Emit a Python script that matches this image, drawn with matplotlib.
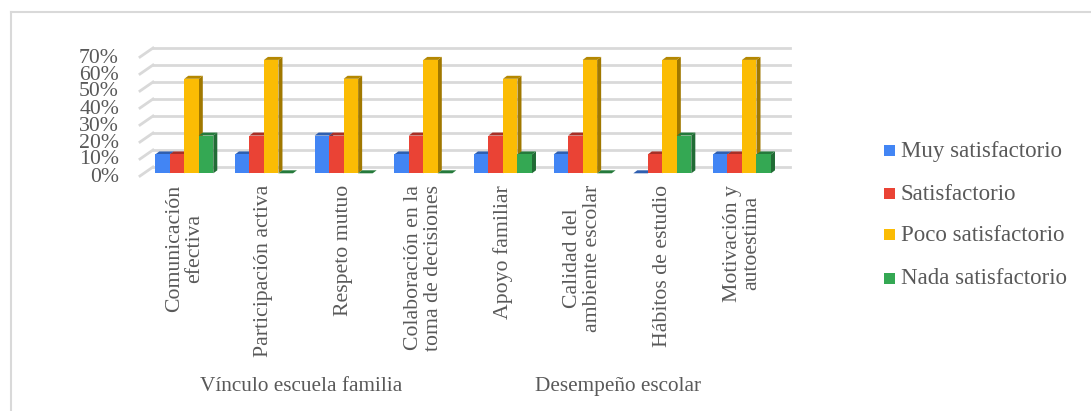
import matplotlib
matplotlib.use("Agg")
import matplotlib.pyplot as plt
from matplotlib.patches import Polygon, Rectangle
from matplotlib.lines import Line2D

categories = ["Comunicación\nefectiva", "Participación activa", "Respeto mutuo",
              "Colaboración en la\ntoma de decisiones", "Apoyo familiar",
              "Calidad del\nambiente escolar", "Hábitos de estudio", "Motivación y\nautoestima"]
groups = ["Vínculo escuela familia", "Desempeño escolar"]
series_names = ["Muy satisfactorio", "Satisfactorio", "Poco satisfactorio", "Nada satisfactorio"]
muy = [11.1, 11.1, 22.2, 11.1, 11.1, 11.1, 0, 11.1]
sat = [11.1, 22.2, 22.2, 22.2, 22.2, 22.2, 11.1, 11.1]
poco = [55.6, 66.7, 55.6, 66.7, 55.6, 66.7, 66.7, 66.7]
nada = [22.2, 0, 0, 0, 11.1, 0, 22.2, 11.1]
yticks = [0, 10, 20, 30, 40, 50, 60, 70]
colors = ["#4285F4", "#EA4335", "#FBBC04", "#34A853"]
tops = ["#2F5FB0", "#A82F26", "#B48700", "#257A3B"]
sides = ["#2A559E", "#962A22", "#A07800", "#216C35"]

W, H = 1091, 411
plt.rcParams["font.family"] = ["Liberation Serif", "DejaVu Serif"]
TXT = "#595959"
fig = plt.figure(figsize=(W / 100, H / 100), dpi=100)
# axes box in pixels
L, R, T, B = 140, 790, 48, 176
ax = fig.add_axes([L / W, 1 - B / H, (R - L) / W, (B - T) / H])
PX_X, PX_Y = 79.67, 1.7
ax.set_xlim((L - 184.3) / PX_X, (R - 184.3) / PX_X)
ax.set_ylim((173.3 - B) / PX_Y, (173.3 - T) / PX_Y)
ax.axis("off")

wall_dx, wall_dy = 13 / PX_X, 6.3 / PX_Y
x0 = ax.get_xlim()[0]
x1 = ax.get_xlim()[1]
base = ax.get_ylim()[0]
for v in yticks:
    y_back = v + wall_dy
    ax.plot([x0 + wall_dx, x1], [y_back, y_back], color="#D9D9D9", lw=2, zorder=1, clip_on=False)
    ax.plot([x0, x0 + wall_dx], [base + v, y_back], color="#D9D9D9", lw=2, zorder=1, clip_on=False)
    fig.text(119 / W, 1 - (177 - v * PX_Y) / H, f"{v}%", ha="right", va="center",
             fontsize=15.7, color=TXT)

bw = 14.5 / PX_X
ddx, ddy = 4 / PX_X, 3 / PX_Y
all_series = [muy, sat, poco, nada]
for i in range(len(categories)):
    for s, vals in enumerate(all_series):
        v = vals[i]
        x = i + (s - 2) * bw
        z = 3 + i * 0.01 + s * 0.001
        ax.add_patch(Polygon([(x + bw, 0), (x + bw + ddx, ddy), (x + bw + ddx, v + ddy), (x + bw, v)],
                             fc=sides[s], ec="none", zorder=z))
        ax.add_patch(Polygon([(x, v), (x + ddx, v + ddy), (x + bw + ddx, v + ddy), (x + bw, v)],
                             fc=tops[s], ec="none", zorder=z))
        if v > 0:
            ax.add_patch(Rectangle((x, 0), bw, v, fc=colors[s], ec="none", zorder=z + 0.0005))
    fig.text((184.3 + i * PX_X) / W, 1 - 185 / H, categories[i], rotation=90, ha="center", va="top",
             multialignment="center", fontsize=15.7, color=TXT, linespacing=1.05)

fig.text(301 / W, 1 - 386 / H, groups[0], ha="center", va="center", fontsize=15.3, color=TXT)
fig.text(618 / W, 1 - 386 / H, groups[1], ha="center", va="center", fontsize=15.3, color=TXT)

for name, c, yp in zip(series_names, colors, [151, 194, 235, 278]):
    fig.patches.append(Rectangle((884 / W, 1 - (yp + 5.5) / H), 11 / W, 11 / H, fc=c, ec="none",
                                 transform=fig.transFigure))
    fig.text(901 / W, 1 - yp / H, name, ha="left", va="center", fontsize=16.5, color=TXT)

for xs, ys in [([11, 11], [12, 411]), ([11, 1091], [12, 12])]:
    fig.add_artist(Line2D([x / W for x in xs], [1 - y / H for y in ys], color="#D9D9D9", lw=1.5))

fig.savefig("out.png", dpi=100)
